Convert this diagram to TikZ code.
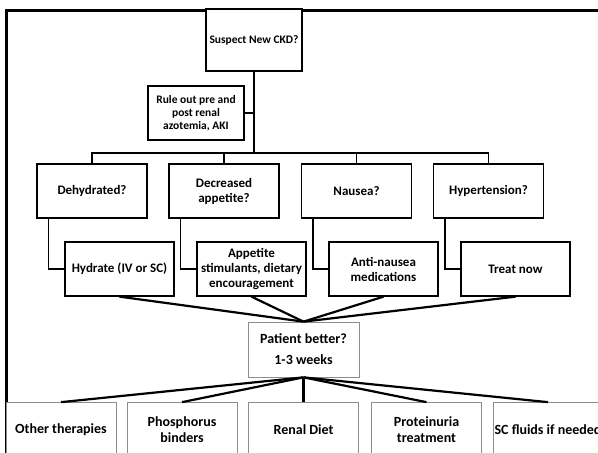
\documentclass[tikz,border=0pt]{standalone}
\usepackage{fontspec}
\setmainfont{Carlito}
\newcommand\smallboxfont{\fontsize{11.5}{13}\selectfont\bfseries}
\newcommand\boxfont{\fontsize{13}{15}\selectfont\bfseries}
\newcommand\softfont{\fontsize{14}{16}\selectfont\bfseries}
\begin{document}
\begin{tikzpicture}[x=1pt,y=-1pt,
  box/.style={draw=black, line width=1.3pt, fill=white, align=center,
    font=\boxfont, inner sep=0pt, minimum height=54pt},
  topbox/.style={box, font=\smallboxfont, minimum width=96pt},
  soft/.style={draw=black!45, line width=0.7pt, fill=white, align=center,
    font=\softfont, inner sep=0pt, minimum width=110pt, minimum height=55pt},
  tree/.style={line width=1.4pt},
  fan/.style={line width=2.2pt}]
\clip (0,0) rectangle (598,453);
\fill[white] (0,0) rectangle (598,453);

% outer frame
\draw[line width=3pt] (6,460) -- (6,10.5) -- (610,10.5);

% top of the tree
\node[topbox, minimum height=62pt] (ckd) at (254,40) {Suspect New CKD?};
\node[topbox] (rule) at (196,113) {Rule out pre and\\post renal\\azotemia, AKI};
\coordinate (bus) at (254,153);

% questions
\node[box, minimum width=110pt] (q1) at (92,191) {Dehydrated?};
\node[box, minimum width=110pt] (q2) at (224,191) {Decreased\\appetite?};
\node[box, minimum width=110pt] (q3) at (356.5,191) {Nausea?};
\node[box, minimum width=110pt] (q4) at (488.5,191) {Hypertension?};

% actions
\node[box, minimum width=109pt] (a1) at (119.5,269) {Hydrate (IV or SC)};
\node[box, minimum width=109pt] (a2) at (251.5,269) {Appetite\\stimulants, dietary\\encouragement};
\node[box, minimum width=109pt] (a3) at (383.5,269) {Anti-nausea\\medications};
\node[box, minimum width=109pt] (a4) at (515.5,269) {Treat now};

% reassessment
\node[soft, minimum width=111pt] (pat) at (303.5,349.5)
  {Patient better?\\[5pt]1-3 weeks};

% long-term management
\node[soft] (t1) at (61,430) {Other therapies};
\node[soft] (t2) at (182,430) {Phosphorus\\binders};
\node[soft] (t3) at (303.5,430) {Renal Diet};
\node[soft] (t4) at (426.5,430) {Proteinuria\\treatment};
\node[soft] (t5) at (548,430) {SC fluids if needed};

% tree connectors
\draw[tree] (ckd.south) -- (bus);
\draw[tree] (rule.east) -- (rule.east -| bus);
\draw[tree] (q1.north) |- (bus) -| (q4.north);
\draw[tree] (q2.north) -- (q2.north |- bus);
\draw[tree] (q3.north) -- (q3.north |- bus);

% question to action elbows
\foreach \i in {1,2,3,4}{
  \draw[tree] ([xshift=12pt]q\i.south west) |- (a\i.west);
}

% converging and diverging fans
\foreach \i in {1,2,3,4}{
  \draw[fan] (a\i.south) -- (pat.north);
}
\foreach \i in {1,2,3,4,5}{
  \draw[fan] (pat.south) -- (t\i.north);
}
\end{tikzpicture}
\end{document}
